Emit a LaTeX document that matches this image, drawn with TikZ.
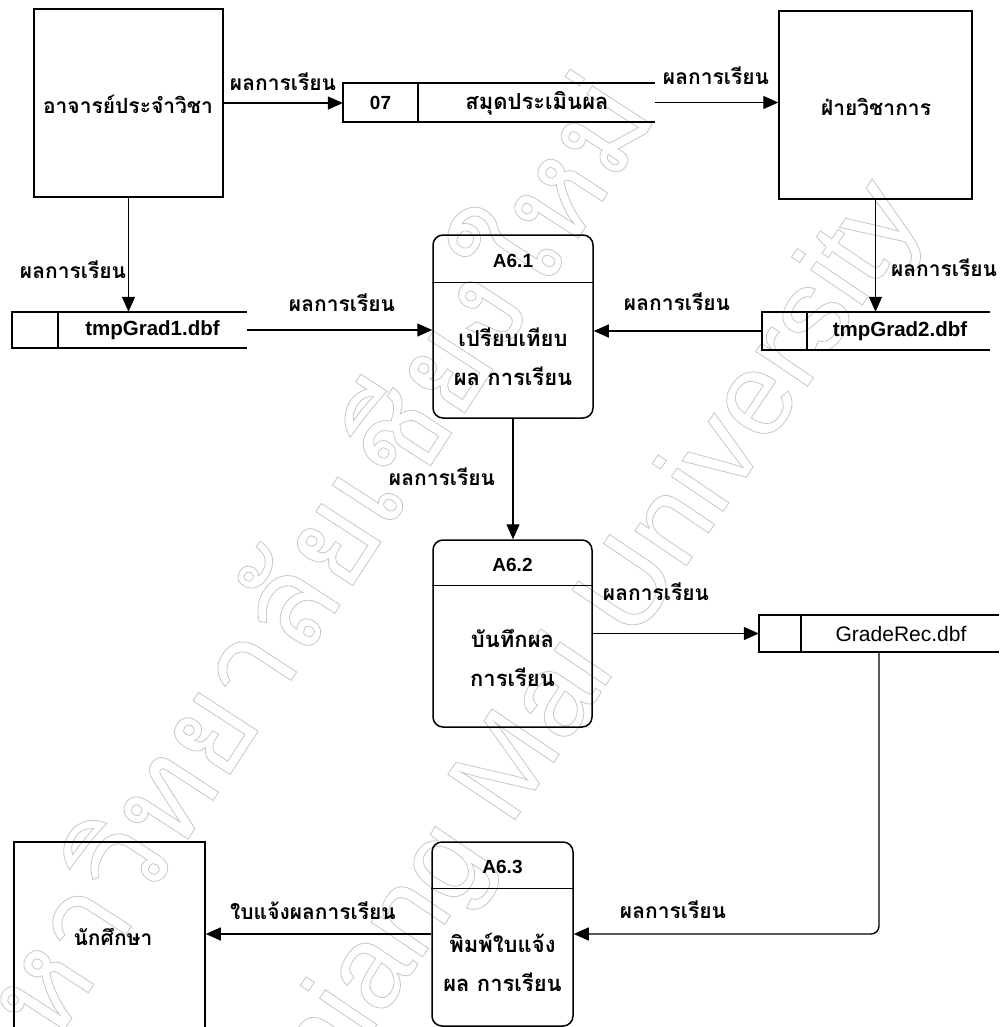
\documentclass[tikz,border=0pt]{standalone}
\usepackage{fontspec}
\setmainfont{Liberation Sans}
\newfontfamily\thai[Script=Thai]{Loma}
\usetikzlibrary{arrows.meta,calc}

\begin{document}
\begin{tikzpicture}[x=1pt,y=-1pt,
  entity/.style={draw, line width=1.5pt, inner sep=0pt},
  entitytext/.style={inner sep=0pt, font=\thai\bfseries\fontsize{21}{24}\selectfont},
  procbox/.style={draw, rounded corners=10pt, line width=1.5pt, inner sep=0pt},
  storebox/.style={inner sep=0pt},
  storeline/.style={line width=1.5pt},
  flow/.style={line width=1.4pt, -{Triangle[length=15pt,width=13pt]}},
  flowlabel/.style={inner sep=0pt, font=\thai\bfseries\fontsize{21}{24}\selectfont},
  thaitext/.style={inner sep=0pt, font=\thai\bfseries\fontsize{22}{24}\selectfont},
  idtext/.style={inner sep=0pt, font=\bfseries\fontsize{19}{22}\selectfont},
  filetext/.style={inner sep=0pt, font=\bfseries\fontsize{20.5}{23}\selectfont},
  proctext/.style={inner sep=0pt, align=center,
    font=\thai\bfseries\fontsize{22}{39}\selectfont},
  watermark/.style={text=black!22, inner sep=0pt}]
\clip (0,0) rectangle (1002,1027);
\fill[white] (0,0) rectangle (1002,1027);

% faint outlined watermark lettering behind the chart
\node[watermark, rotate=57] (wmthai) at (285,585)
  {\special{pdf:literal direct 1 Tr 0.8 w}\thai\fontsize{128}{130}\selectfont มหาวิทยาลัยเชียงใหม่};
\node[watermark, rotate=56] (wmlatin) at (578,672)
  {\special{pdf:literal direct 1 Tr 0.8 w}\fontsize{118}{124}\selectfont Chiang Mai University};

% external entities
\node[entity, minimum width=189pt, minimum height=188pt] (teacher) at (128.5,103) {};
\node[entitytext] (teachertxt) at (128,104) {อาจารย์ประจำวิชา};
\node[entity, minimum width=193pt, minimum height=188pt] (academic) at (875.5,105) {};
\node[entitytext] (academictxt) at (876,107) {ฝ่ายวิชาการ};
\node[entity, minimum width=191pt, minimum height=198pt] (student) at (109.5,941) {};
\node[entitytext] (studenttxt) at (113,937) {นักศึกษา};

% data stores (open on the right)
\node[storebox, minimum width=312pt, minimum height=39pt] (s07) at (499,102.5) {};
\draw[storeline] (s07.north east) -- (s07.north west) -- (s07.south west) -- (s07.south east);
\draw[storeline] ([xshift=75pt]s07.north west) -- ([xshift=75pt]s07.south west);
\node[idtext] (s07id) at (380.5,103) {07};
\node[thaitext] (s07name) at (537,103) {สมุดประเมินผล};

\node[storebox, minimum width=235pt, minimum height=36pt] (tg1) at (129.5,330) {};
\draw[storeline] (tg1.north east) -- (tg1.north west) -- (tg1.south west) -- (tg1.south east);
\draw[storeline] ([xshift=46pt]tg1.north west) -- ([xshift=46pt]tg1.south west);
\node[filetext] (tg1name) at (152.5,330) {tmpGrad1.dbf};

\node[storebox, minimum width=228pt, minimum height=38pt] (tg2) at (876,331) {};
\draw[storeline] (tg2.north east) -- (tg2.north west) -- (tg2.south west) -- (tg2.south east);
\draw[storeline] ([xshift=45pt]tg2.north west) -- ([xshift=45pt]tg2.south west);
\node[filetext] (tg2name) at (900,331) {tmpGrad2.dbf};

\node[storebox, minimum width=240pt, minimum height=37pt] (gr) at (879,633.5) {};
\draw[storeline] (gr.north east) -- (gr.north west) -- (gr.south west) -- (gr.south east);
\draw[storeline] ([xshift=42pt]gr.north west) -- ([xshift=42pt]gr.south west);
\node[inner sep=0pt, font=\fontsize{21}{24}\selectfont] (grname) at (901,634) {GradeRec.dbf};

% processes
\node[procbox, minimum width=160pt, minimum height=183pt] (p1) at (513,326.5) {};
\draw[storeline] ([yshift=-48pt]p1.north west) -- ([yshift=-48pt]p1.north east);
\node[idtext] (p1id) at (513,261) {A6.1};
\node[proctext] (p1txt) at (513,357) {เปรียบเทียบ\\ผล การเรียน};

\node[procbox, minimum width=159pt, minimum height=187pt] (p2) at (512.5,633.5) {};
\draw[storeline] ([yshift=-46pt]p2.north west) -- ([yshift=-46pt]p2.north east);
\node[idtext] (p2id) at (512.5,565) {A6.2};
\node[proctext] (p2txt) at (512.5,658) {บันทึกผล\\การเรียน};

\node[procbox, minimum width=141pt, minimum height=184pt] (p3) at (502.5,934) {};
\draw[storeline] ([yshift=-47pt]p3.north west) -- ([yshift=-47pt]p3.north east);
\node[idtext] (p3id) at (502.5,867) {A6.3};
\node[proctext] (p3txt) at (502.5,962) {พิมพ์ใบแจ้ง\\ผล การเรียน};

% data flows
\draw[flow] (teacher.east) -- (teacher.east -| s07.west);
\draw[flow] (s07.east) -- (s07.east -| academic.west);
\draw[flow] (teacher.south) -- (teacher.south |- tg1.north);
\draw[flow] (academic.south) -- (academic.south |- tg2.north);
\draw[flow] (tg1.east) -- (tg1.east -| p1.west);
\draw[flow] (tg2.west) -- (tg2.west -| p1.east);
\draw[flow] (p1.south) -- (p1.south |- p2.north);
\draw[flow] (p2.east) -- (p2.east -| gr.west);
\draw[flow, rounded corners=8pt] (gr.south) |- (p3.east);
\draw[flow] (p3.west) -- (p3.west -| student.east);

% flow labels
\node[flowlabel] (l1) at (283,82) {ผลการเรียน};
\node[flowlabel] (l2) at (716,76) {ผลการเรียน};
\node[flowlabel] (l3) at (73,270) {ผลการเรียน};
\node[flowlabel] (l4) at (342,303) {ผลการเรียน};
\node[flowlabel] (l5) at (677,302) {ผลการเรียน};
\node[flowlabel] (l6) at (944,268) {ผลการเรียน};
\node[flowlabel] (l7) at (442,477) {ผลการเรียน};
\node[flowlabel] (l8) at (656,592) {ผลการเรียน};
\node[flowlabel] (l9) at (673,910) {ผลการเรียน};
\node[flowlabel] (l10) at (313,911) {ใบแจ้งผลการเรียน};
\end{tikzpicture}
\end{document}
